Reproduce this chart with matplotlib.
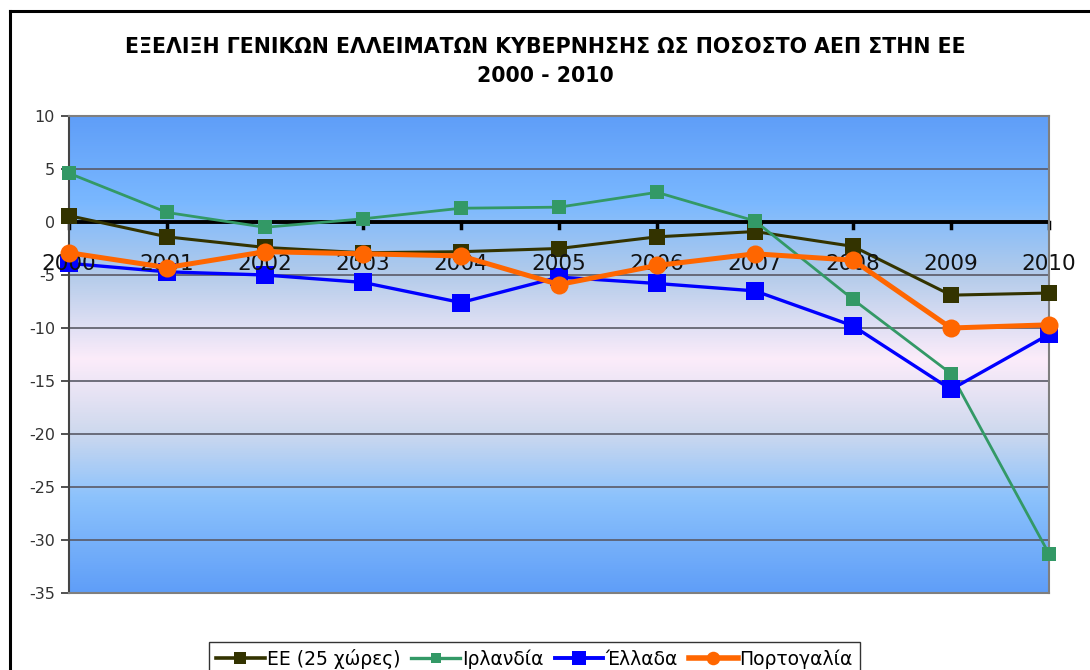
import numpy as np
import matplotlib.pyplot as plt
from matplotlib.colors import LinearSegmentedColormap
from matplotlib.lines import Line2D

years = ["2000", "2001", "2002", "2003", "2004", "2005",
         "2006", "2007", "2008", "2009", "2010"]
eu25 = [0.6, -1.4, -2.4, -2.9, -2.8, -2.5, -1.4, -0.9, -2.3, -6.9, -6.7]
ireland = [4.6, 0.9, -0.5, 0.3, 1.3, 1.4, 2.8, 0.1, -7.3, -14.3, -31.3]
greece = [-3.9, -4.7, -5.0, -5.7, -7.6, -5.2, -5.8, -6.5, -9.8, -15.8, -10.6]
portugal = [-2.9, -4.3, -2.8, -3.0, -3.2, -5.9, -4.1, -3.0, -3.6, -10.0, -9.7]
labels = ["ΕΕ (25 χώρες)", "Ιρλανδία", "Έλλαδα", "Πορτογαλία"]
y_ticks = [10, 5, 0, -5, -10, -15, -20, -25, -30, -35]

W, H = 1090, 670
fig = plt.figure(figsize=(W / 100, H / 100), dpi=100)
fig.patch.set_facecolor("white")

# outer frame (left and top edges)
fig.add_artist(Line2D([10 / W, 10 / W], [0, 1 - 11 / H], color="black", lw=2.2,
                      transform=fig.transFigure))
fig.add_artist(Line2D([10 / W, 1], [1 - 11 / H, 1 - 11 / H], color="black", lw=2.2,
                      transform=fig.transFigure))

left, right, top, bottom = 69, 1049, 116, 593
ax = fig.add_axes([left / W, 1 - bottom / H, (right - left) / W, (bottom - top) / H])

x = np.arange(len(years))
ax.set_xlim(0, len(years) - 1)
ax.set_ylim(-35, 10)

# gradient background
stops = [(0.00, "#5f9ef8"), (0.18, "#7ab8ff"), (0.33, "#b2cbea"),
         (0.51, "#fcecfa"), (0.66, "#cfd9ee"), (0.80, "#8cc2fc"),
         (1.00, "#5f9ef8")]
cmap = LinearSegmentedColormap.from_list("bg", stops)
grad = np.linspace(0, 1, 512).reshape(-1, 1)
ax.imshow(grad, cmap=cmap, aspect="auto", extent=(0, len(years) - 1, -35, 10),
          origin="upper", zorder=0)

for t in y_ticks:
    if t in (10, -35, 0):
        continue
    ax.axhline(t, color="#5a5a66", lw=1.2, zorder=1)

# zero axis with year ticks
ax.axhline(0, color="black", lw=2.8, zorder=2)
for xi in x:
    ax.plot([xi, xi], [0, -0.6], color="black", lw=2.5, zorder=2, clip_on=False)
    ax.text(xi, -4.0, years[xi], ha="center", va="center", fontsize=15.5,
            color="#111111", zorder=6, clip_on=False)

ax.set_xticks([])
ax.set_yticks(y_ticks)
ax.set_yticklabels([str(t) for t in y_ticks], fontsize=11.5, color="#333333")
ax.tick_params(axis="y", length=6, width=1.2, color="#333333", pad=4)

for s in ax.spines.values():
    s.set_color("#7f7f7f")
    s.set_linewidth(1.5)
ax.spines["left"].set_color("#444444")

styles = [
    (eu25, "#333300", 2.2, "s", 11),
    (ireland, "#339966", 2.0, "s", 10),
    (greece, "#0000ff", 2.4, "s", 13),
    (portugal, "#ff6600", 3.6, "o", 13),
]
handles = []
order = [1, 0, 2, 3]
for i in order:
    vals, col, lw, mk, ms = styles[i]
    ax.plot(x, vals, color=col, lw=lw, marker=mk, markersize=ms,
            markeredgewidth=0, zorder=3 + i, clip_on=False)
for i in range(4):
    vals, col, lw, mk, ms = styles[i]
    handles.append(Line2D([], [], color=col, lw=lw + 0.4, marker=mk,
                          markersize=ms * 0.75, markeredgewidth=0))

fig.text(0.5, 1 - 47 / H, "ΕΞΕΛΙΞΗ ΓΕΝΙΚΩΝ ΕΛΛΕΙΜΑΤΩΝ ΚΥΒΕΡΝΗΣΗΣ ΩΣ ΠΟΣΟΣΤΟ ΑΕΠ ΣΤΗΝ ΕΕ",
         ha="center", va="center", fontsize=14.8, fontweight="bold", color="black")
fig.text(0.5, 1 - 76 / H, "2000 - 2010", ha="center", va="center", fontsize=14.8,
         fontweight="bold", color="black")

leg = fig.legend(handles, labels, loc="upper left",
                 bbox_to_anchor=(200 / W, 1 - 633 / H), ncol=4, frameon=True,
                 fontsize=13.5, handlelength=2.6, handletextpad=0.1,
                 columnspacing=0.6, borderpad=0.35, fancybox=False,
                 edgecolor="black")
leg.get_frame().set_linewidth(1.0)

fig.savefig("out.png", dpi=100, facecolor="white")
